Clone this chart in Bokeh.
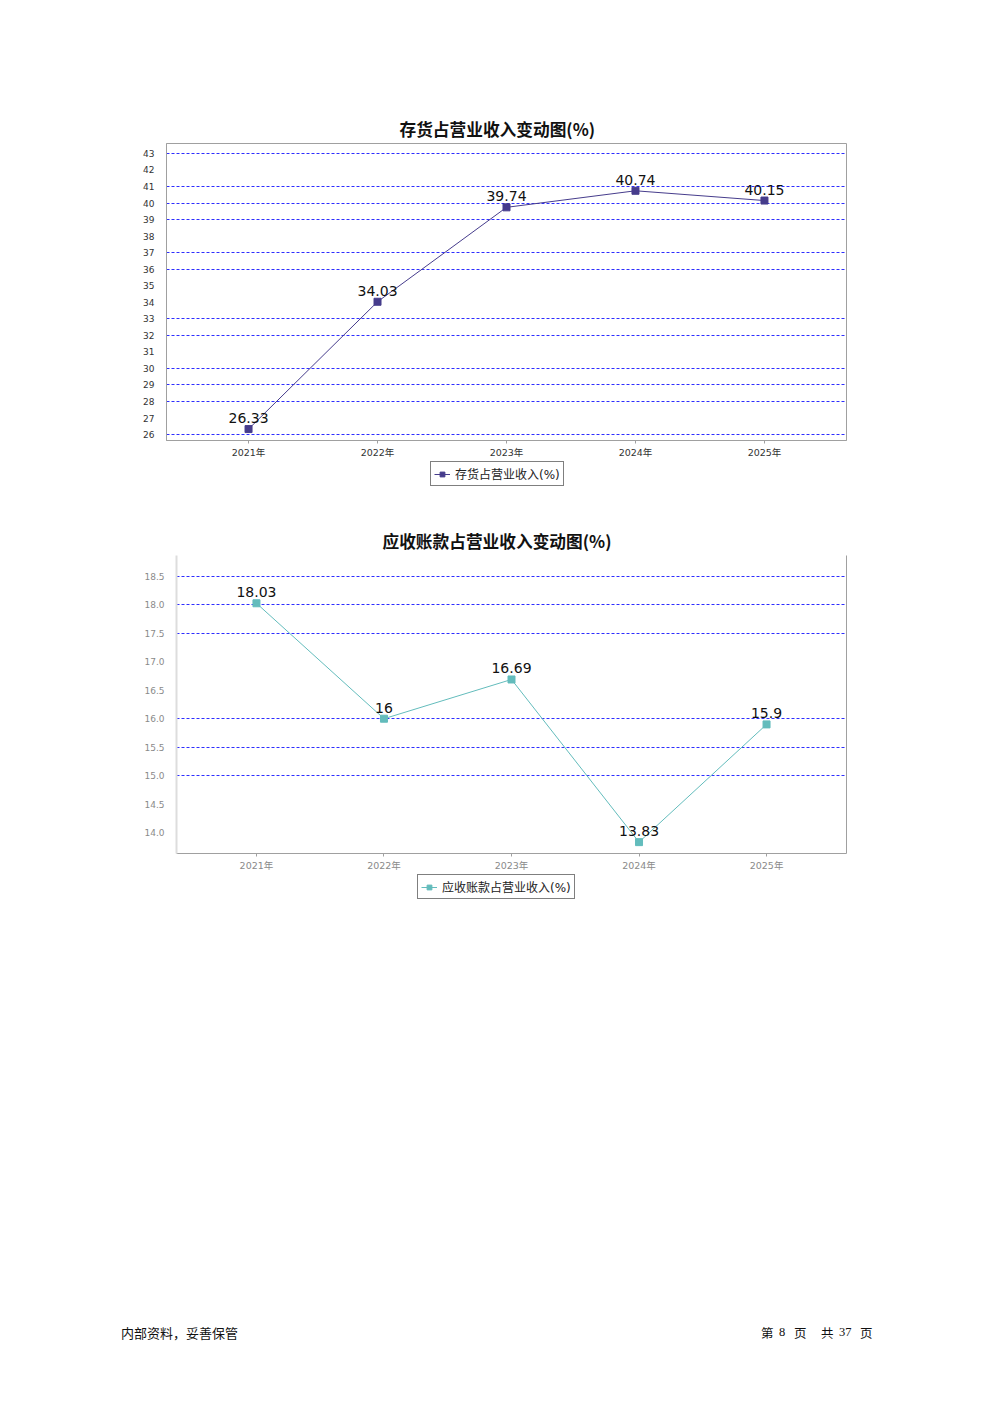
from bokeh.plotting import figure
from bokeh.models import (FixedTicker, Legend, LegendItem, LinearAxis, Range1d, Div)
from bokeh.layouts import column
from bokeh.core.properties import value
from bokeh.embed import file_html
from bokeh.resources import INLINE

# ---------------- data ----------------
years = [2021, 2022, 2023, 2024, 2025]
year_labels = ["2021年", "2022年", "2023年", "2024年", "2025年"]

title1 = "存货占营业收入变动图(%)"
series1_name = "存货占营业收入(%)"
series1 = [26.33, 34.03, 39.74, 40.74, 40.15]
y1_ticks = list(range(26, 44))
y1_grid = [26, 28, 29, 30, 32, 33, 36, 37, 39, 40, 41, 43]

title2 = "应收账款占营业收入变动图(%)"
series2_name = "应收账款占营业收入(%)"
series2 = [18.03, 16.0, 16.69, 13.83, 15.9]
y2_ticks = [14.0, 14.5, 15.0, 15.5, 16.0, 16.5, 17.0, 17.5, 18.0, 18.5]
y2_tick_labels = ["14.0", "14.5", "15.0", "15.5", "16.0", "16.5", "17.0", "17.5", "18.0", "18.5"]
y2_grid = [15.0, 15.5, 16.0, 17.5, 18.0, 18.5]

footer_left = "内部资料，妥善保管"
footer_right = ["第", "8", "页", "共", "37", "页"]

FONT = "DejaVu Sans, Noto Sans CJK SC"
CJK = "Noto Sans CJK SC"
W = 992


def fmt(v):
    return f"{v:g}"


def make_chart(title, vals, color, xr, yr, yticks, ytick_labels, ygrid,
               left, fw, fh, top, bottom, title_offset,
               tick_color, left_line_color, left_line_width, outline):
    p = figure(output_backend="svg", toolbar_location=None,
               frame_width=fw, frame_height=fh,
               min_border_left=left, min_border_right=W - left - fw,
               min_border_top=top, min_border_bottom=bottom,
               x_range=Range1d(*xr), y_range=Range1d(*yr))
    p.background_fill_color = "white"
    p.border_fill_color = "white"
    p.title.text = title
    p.title.align = "left"
    p.title.text_font = CJK
    p.title.text_font_style = "bold"
    p.title.text_font_size = "16.7px"
    p.title.text_color = "#111111"
    p.title.offset = title_offset
    p.title.standoff = 5

    if outline:
        p.outline_line_color = "#a0a0a0"
        p.outline_line_width = 1
    else:
        p.outline_line_color = None

    xa = p.xaxis[0]
    xa.ticker = FixedTicker(ticks=years)
    xa.major_label_overrides = {y: l for y, l in zip(years, year_labels)}
    xa.major_label_text_font = FONT
    xa.major_label_text_font_size = "9.5px"
    xa.major_label_text_color = tick_color
    xa.major_label_standoff = 3
    xa.axis_line_color = "#a0a0a0"
    xa.major_tick_line_color = "#a0a0a0"
    xa.major_tick_in = 0
    xa.major_tick_out = 3
    xa.minor_tick_line_color = None

    ya = p.yaxis[0]
    ya.ticker = FixedTicker(ticks=yticks)
    if ytick_labels is not None:
        ya.major_label_overrides = {t: l for t, l in zip(yticks, ytick_labels)}
    ya.major_label_text_font = FONT
    ya.major_label_text_font_size = "9px"
    ya.major_label_text_color = tick_color
    ya.major_label_standoff = 6
    ya.axis_line_color = left_line_color
    ya.axis_line_width = left_line_width
    ya.major_tick_line_color = None
    ya.minor_tick_line_color = None

    p.xgrid.visible = False
    p.ygrid.ticker = FixedTicker(ticks=ygrid)
    p.ygrid.grid_line_color = "#2e2eff"
    p.ygrid.grid_line_dash = "3 2"
    p.ygrid.grid_line_width = 1

    if not outline:
        ra = LinearAxis(ticker=FixedTicker(ticks=[]), axis_line_color="#a0a0a0",
                        major_tick_line_color=None, minor_tick_line_color=None,
                        major_label_text_font_size="0px")
        p.add_layout(ra, "right")

    p.line(years, vals, line_color=color, line_width=1)
    p.scatter(years, vals, marker="square", size=7, fill_color=color,
              line_color=color)
    p.text(years, vals, text=[fmt(v) for v in vals], text_align="center",
           text_baseline="bottom", y_offset=-6, text_font=value(FONT),
           text_font_size="14px", text_color="#111111")
    return p


def make_legend(name, vals, color, xr, yr, leg_x, height):
    # separate strip holding the legend of the chart above
    q = figure(output_backend="svg", toolbar_location=None,
               frame_width=W, frame_height=height,
               min_border=0, x_axis_location=None, y_axis_location=None,
               x_range=Range1d(*xr), y_range=Range1d(*yr))
    q.outline_line_color = None
    q.grid.visible = False
    q.background_fill_color = "white"
    q.border_fill_color = "white"
    ln = q.line(years, vals, line_color=color, line_width=1, visible=False)
    sc = q.scatter(years, vals, marker="square", size=7, fill_color=color,
                   line_color=color, visible=False)
    leg = Legend(items=[LegendItem(label=name, renderers=[ln, sc])],
                 location=(leg_x, 4), orientation="horizontal",
                 border_line_color="black", border_line_width=1,
                 background_fill_color="white", background_fill_alpha=1,
                 padding=3, margin=0, spacing=0,
                 label_text_font=FONT, label_text_font_size="12px",
                 label_text_color="#222222",
                 glyph_width=16, glyph_height=12, label_height=12,
                 label_standoff=5)
    q.add_layout(leg, "center")
    return q


p1 = make_chart(title1, series1, "#463c8c",
                (2020.364, 2025.636), (25.64, 43.6), y1_ticks, None, y1_grid,
                left=166, fw=680, fh=297, top=143, bottom=20,
                title_offset=233,
                tick_color="#333333", left_line_color="#a0a0a0",
                left_line_width=1, outline=True)
l1 = make_legend(series1_name, series1, "#463c8c",
                 (2020.364, 2025.636), (25.64, 43.6), 430, 30)

p2 = make_chart(title2, series2, "#63bcbc",
                (2020.373, 2025.627), (13.63, 18.87), y2_ticks, y2_tick_labels, y2_grid,
                left=176, fw=670, fh=298, top=65, bottom=20,
                title_offset=206,
                tick_color="#8a8a8a", left_line_color="#dddddd",
                left_line_width=2, outline=False)
l2 = make_legend(series2_name, series2, "#63bcbc",
                 (2020.373, 2025.627), (13.63, 18.87), 417, 30)

gap = Div(width=W, height=406, text="")
pos = [756, 774, 789, 816, 834, 855]
spans = "".join(
    f'<span style="position:absolute;left:{x}px;top:0px;'
    f'{"font-family:Liberation Serif,serif;" if t.isdigit() else ""}">{t}</span>'
    for x, t in zip(pos, footer_right))
footer = Div(width=W, height=20, text=(
    '<div style="position:relative;width:980px;height:20px;'
    'font-family:\'Noto Sans CJK SC\',sans-serif;font-size:12.5px;color:#111;">'
    f'<span style="position:absolute;left:116px;top:0px;font-size:13px;">{footer_left}</span>'
    + spans + '</div>'))

layout = column(column(p1), column(l1), column(p2), column(l2), gap, footer,
                spacing=0)
open("out.html", "w").write(file_html(layout, INLINE))
